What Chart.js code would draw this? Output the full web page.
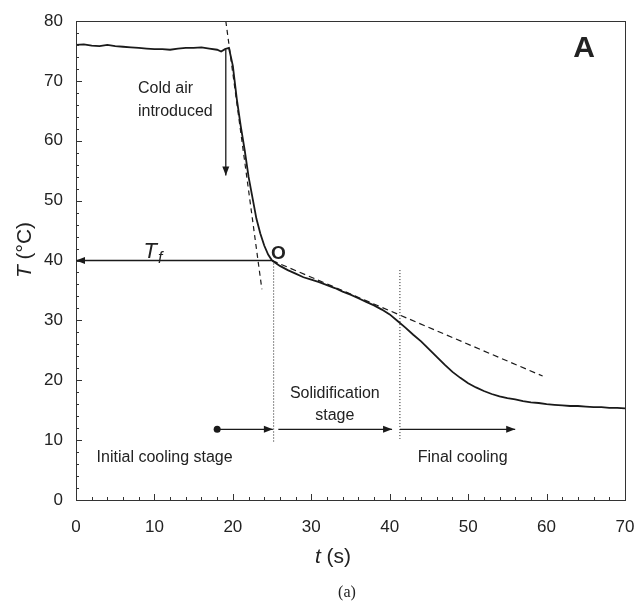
<!DOCTYPE html>
<html>
<head>
<meta charset="utf-8">
<script src="https://cdn.jsdelivr.net/npm/chart.js@4.4.1/dist/chart.umd.min.js"></script>
<style>
html, body { margin: 0; padding: 0; background: #fff; }
#wrap { width: 636px; height: 604px; position: relative; }
</style>
</head>
<body>
<div id="wrap"><canvas id="cooling-curve"></canvas></div>
<script>
var time_s = [0, 1, 2, 3, 4, 5, 6, 7, 8, 9, 10, 11, 12, 13, 14, 15, 16, 17, 18, 18.5, 19, 19.5,
  20, 20.5, 21, 21.5, 22, 22.5, 23, 23.5, 24, 24.5, 25, 26, 27, 28, 29, 30, 31, 32, 33, 34, 35,
  36, 37, 38, 39, 40, 41, 42, 43, 44, 45, 46, 47, 48, 49, 50, 51, 52, 53, 54, 55, 56, 57, 58,
  59, 60, 61, 62, 63, 64, 65, 66, 67, 68, 69, 70];
var temp_c = [76.0, 76.1, 75.9, 75.8, 76.0, 75.8, 75.7, 75.6, 75.5, 75.4, 75.3, 75.3, 75.2, 75.4,
  75.5, 75.5, 75.6, 75.4, 75.2, 74.9, 75.3, 75.5,
  72.5, 67.0, 62.5, 58.5, 54.0, 50.5, 47.0, 44.5, 42.5, 41.0, 40.0, 39.1, 38.4, 37.8, 37.2, 36.8,
  36.4, 35.9, 35.4, 34.8, 34.3, 33.7, 33.1, 32.5, 31.8, 31.0, 29.9, 28.8, 27.6, 26.5, 25.2, 23.9,
  22.6, 21.4, 20.4, 19.5, 18.8, 18.2, 17.7, 17.3, 17.0, 16.8, 16.5, 16.3, 16.2, 16.0, 15.9, 15.8,
  15.7, 15.7, 15.6, 15.5, 15.5, 15.4, 15.4, 15.3];

// dashed tangent lines [t, T] end points
var tangent_steep = [[19.1, 80], [23.7, 35.2]];
var tangent_solid = [[25.0, 40], [59.5, 20.7]];

// dotted stage boundaries
var stage_lines = [[[25.2, 40], [25.2, 9.5]], [[41.3, 38.4], [41.3, 10.2]]];

// arrows: from -> to (head at "to")
var tf_arrow = [[24.9, 40], [0, 40]];
var cold_air_arrow = [[19.1, 75.2], [19.1, 54.2]];
var stage_arrows = [
  [[18.0, 11.8], [25.1, 11.8]],
  [[25.8, 11.8], [40.3, 11.8]],
  [[41.3, 11.8], [56.0, 11.8]]
];
var stage_dot = [18.0, 11.8];

// axis ranges / ticks
var x_min = 0, x_max = 70, x_step = 10;
var y_min = 0, y_max = 80, y_step = 10;

// text labels in data coords
var note_cold_air = ["Cold air", "introduced"];
var note_cold_air_pos = [[7.9, 68.7], [7.9, 64.8]];
var note_stages = ["Initial cooling stage", "Solidification", "stage", "Final cooling"];
var note_stages_pos = [[11.3, 7.0], [33.0, 17.8], [33.0, 14.1], [49.3, 7.0]];
var point_o_pos = [25.8, 41.2];
var tf_pos = [8.6, 40.4];

function to_xy(pairs) {
  return pairs.map(function(p) { return {x: p[0], y: p[1]}; });
}

var curve_points = [];
for (var i = 0; i < time_s.length; i++) {
  curve_points.push({x: time_s[i], y: temp_c[i]});
}

var font_family = "'Liberation Sans', Arial, Helvetica, sans-serif";
var ink = "#1a1a1a";

function line_ds(pts, dash, width) {
  return {
    data: to_xy(pts),
    borderColor: ink,
    borderWidth: width,
    borderDash: dash,
    pointRadius: 0,
    fill: false,
    tension: 0
  };
}

var datasets = [];
datasets.push(line_ds(tangent_steep, [5, 4], 1.2));
datasets.push(line_ds(tangent_solid, [6, 4], 1.2));
stage_lines.forEach(function(l) { datasets.push(line_ds(l, [1, 2], 1)); });
datasets.push(line_ds(tf_arrow, [], 1.3));
datasets.push(line_ds(cold_air_arrow, [], 1.3));
stage_arrows.forEach(function(l) { datasets.push(line_ds(l, [], 1.3)); });
datasets.push({
  data: curve_points,
  borderColor: ink,
  borderWidth: 1.8,
  pointRadius: 0,
  fill: false,
  tension: 0
});

// extras: frame, inward ticks, arrow heads, notes, axis titles
var extras_plugin = {
  id: "extras",
  afterDraw: function(chart) {
    var ctx = chart.ctx;
    var xs = chart.scales.x, ys = chart.scales.y;
    var a = chart.chartArea;
    function px(t) { return xs.getPixelForValue(t); }
    function py(v) { return ys.getPixelForValue(v); }

    ctx.save();
    ctx.strokeStyle = "#333";
    ctx.lineWidth = 1;
    ctx.strokeRect(Math.round(a.left) + 0.5, Math.round(a.top) + 0.5,
      Math.round(a.right - a.left), Math.round(a.bottom - a.top));

    // inward ticks
    ctx.beginPath();
    for (var t = x_min; t <= x_max; t += 2) {
      var len = (t % x_step === 0) ? 6 : 3;
      var x = Math.round(px(t)) + 0.5;
      ctx.moveTo(x, a.bottom);
      ctx.lineTo(x, a.bottom - len);
    }
    for (var v = y_min; v <= y_max; v += 2) {
      var len2 = (v % y_step === 0) ? 6 : 3;
      var y = Math.round(py(v)) + 0.5;
      ctx.moveTo(a.left, y);
      ctx.lineTo(a.left + len2, y);
    }
    ctx.stroke();

    // arrow heads
    ctx.fillStyle = ink;
    function head(from, to) {
      var x1 = px(from[0]), y1 = py(from[1]);
      var x2 = px(to[0]), y2 = py(to[1]);
      var ang = Math.atan2(y2 - y1, x2 - x1);
      var L = 9, W = 3.5;
      ctx.beginPath();
      ctx.moveTo(x2, y2);
      ctx.lineTo(x2 - L * Math.cos(ang) + W * Math.sin(ang), y2 - L * Math.sin(ang) - W * Math.cos(ang));
      ctx.lineTo(x2 - L * Math.cos(ang) - W * Math.sin(ang), y2 - L * Math.sin(ang) + W * Math.cos(ang));
      ctx.closePath();
      ctx.fill();
    }
    head(tf_arrow[0], tf_arrow[1]);
    head(cold_air_arrow[0], cold_air_arrow[1]);
    stage_arrows.forEach(function(l) { head(l[0], l[1]); });
    ctx.beginPath();
    ctx.arc(px(stage_dot[0]), py(stage_dot[1]), 3.5, 0, Math.PI * 2);
    ctx.fill();

    // notes
    ctx.fillStyle = "#222";
    ctx.textBaseline = "middle";
    ctx.font = "16px " + font_family;
    ctx.textAlign = "left";
    for (var i = 0; i < note_cold_air.length; i++) {
      ctx.fillText(note_cold_air[i], px(note_cold_air_pos[i][0]), py(note_cold_air_pos[i][1]));
    }
    ctx.textAlign = "center";
    for (var j = 0; j < note_stages.length; j++) {
      ctx.fillText(note_stages[j], px(note_stages_pos[j][0]), py(note_stages_pos[j][1]));
    }

    // point O
    ctx.font = "bold 19px " + font_family;
    ctx.fillText("O", px(point_o_pos[0]), py(point_o_pos[1]));

    // T_f
    ctx.textAlign = "left";
    ctx.textBaseline = "alphabetic";
    ctx.font = "italic 22px " + font_family;
    var tfx = px(tf_pos[0]), tfy = py(tf_pos[1]);
    ctx.fillText("T", tfx, tfy);
    var tw = ctx.measureText("T").width;
    ctx.font = "italic 16px " + font_family;
    ctx.fillText("f", tfx + tw + 1, tfy + 5);

    // panel letter
    ctx.textAlign = "center";
    ctx.textBaseline = "middle";
    ctx.font = "bold 30px " + font_family;
    ctx.fillText("A", 584, 49);

    // x axis title: italic t + (s)
    ctx.textBaseline = "middle";
    ctx.textAlign = "left";
    ctx.font = "italic 21px " + font_family;
    var w1 = ctx.measureText("t ").width;
    ctx.font = "21px " + font_family;
    var w2 = ctx.measureText("(s)").width;
    var sx = 333 - (w1 + w2) / 2;
    ctx.font = "italic 21px " + font_family;
    ctx.fillText("t ", sx, 557);
    ctx.font = "21px " + font_family;
    ctx.fillText("(s)", sx + w1, 557);

    // y axis title: italic T + (°C), rotated
    ctx.save();
    ctx.translate(25, 250);
    ctx.rotate(-Math.PI / 2);
    ctx.font = "italic 21px " + font_family;
    var u1 = ctx.measureText("T ").width;
    ctx.font = "21px " + font_family;
    var u2 = ctx.measureText("(\u00B0C)").width;
    var sy = -(u1 + u2) / 2;
    ctx.font = "italic 21px " + font_family;
    ctx.fillText("T ", sy, 0);
    ctx.font = "21px " + font_family;
    ctx.fillText("(\u00B0C)", sy + u1, 0);
    ctx.restore();

    // figure caption
    ctx.textAlign = "center";
    ctx.font = "16px 'Liberation Serif', 'Times New Roman', serif";
    ctx.fillText("(a)", 347, 593);

    ctx.restore();
  }
};

var chart = new Chart("cooling-curve", {
  type: "line",
  data: {datasets: datasets},
  options: {
    responsive: true,
    maintainAspectRatio: false,
    animation: false,
    events: [],
    layout: {padding: {left: 0, right: 11, top: 21, bottom: 0}},
    plugins: {
      legend: {display: false},
      tooltip: {enabled: false}
    },
    scales: {
      x: {
        type: "linear",
        min: x_min,
        max: x_max,
        afterFit: function(scale) {
          scale.height = 104;
          // keep the tick padding from widening the side margins
          scale.paddingLeft = 0;
          scale.paddingRight = 10;
        },
        grid: {display: false, drawTicks: false},
        border: {display: false},
        ticks: {
          stepSize: x_step,
          padding: 17,
          color: "#222",
          font: {family: font_family, size: 17},
          maxRotation: 0
        }
      },
      y: {
        type: "linear",
        min: y_min,
        max: y_max,
        afterFit: function(scale) {
          scale.width = 76;
          scale.paddingTop = 10;
          scale.paddingBottom = 0;
        },
        grid: {display: false, drawTicks: false},
        border: {display: false},
        ticks: {
          stepSize: y_step,
          padding: 13,
          color: "#222",
          font: {family: font_family, size: 17}
        }
      }
    }
  },
  plugins: [extras_plugin]
});
</script>
</body>
</html>
